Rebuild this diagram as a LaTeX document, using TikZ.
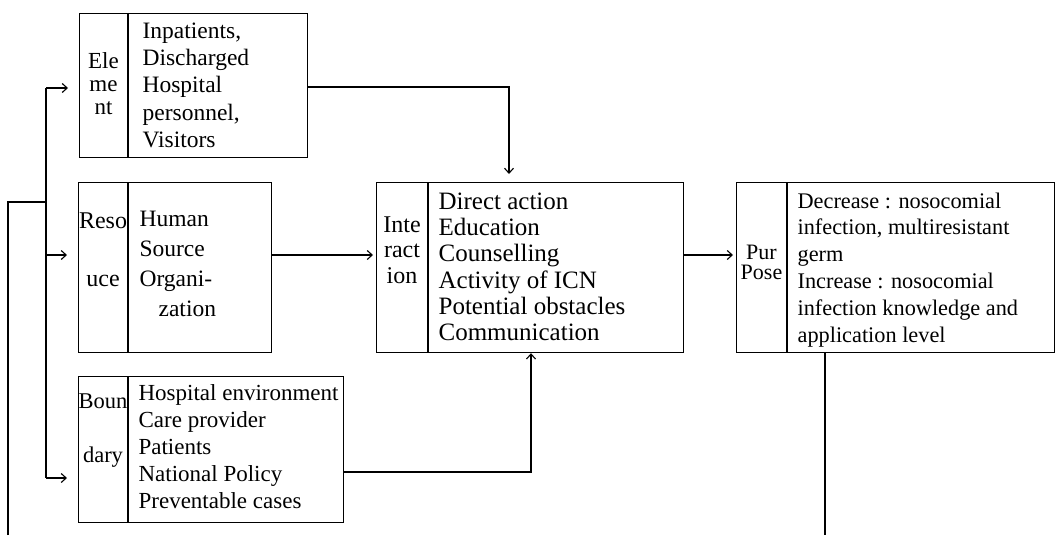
\documentclass[tikz,border=0pt]{standalone}
\usepackage{fontspec}
\setmainfont{Liberation Serif}
\usetikzlibrary{arrows.meta,calc}
\newcommand\myfs[2]{\fontsize{#1}{#2}\selectfont}
\begin{document}
\begin{tikzpicture}[x=1pt,y=-1pt,line width=1.2pt,
  box/.style={draw,rectangle,inner sep=0pt,anchor=north west},
  arr/.style={-{Straight Barb[length=5pt,width=9pt,line width=1.1pt]}},
  txt/.style={anchor=north west,inner sep=0pt,align=left},
  lbl/.style={anchor=north,inner sep=0pt,align=center}]
\useasboundingbox (0,0) rectangle (1056,535);
% boxes
\node[box,minimum width=228pt,minimum height=144pt] (elem) at (79,13) {};
\node[box,minimum width=193pt,minimum height=170pt] (res) at (78,182) {};
\node[box,minimum width=265pt,minimum height=146pt] (bound) at (78,376) {};
\node[box,minimum width=307pt,minimum height=170pt] (inter) at (376,182) {};
\node[box,minimum width=318pt,minimum height=170pt] (purp) at (736,182) {};
% dividers
\draw (elem.north west) ++(49,0) -- ++(0,144);
\draw (res.north west) ++(50,0) -- ++(0,170);
\draw (bound.north west) ++(50,0) -- ++(0,146);
\draw (inter.north west) ++(52,0) -- ++(0,170);
\draw (purp.north west) ++(51,0) -- ++(0,170);
% texts
\node[txt,font=\myfs{23.5}{27.3}] (elemT) at (142,22) {Inpatients,\\Discharged\\Hospital\\personnel,\\Visitors};
\node[lbl,font=\myfs{23}{23}] (elemL) at (103.5,52) {Ele\\me\\nt};
\node[txt,font=\myfs{23.5}{29.7}] (resT) at (139,211) {Human\\Source\\Organi-\\\hspace*{19pt}zation};
\node[lbl,font=\myfs{24}{24}] (resL1) at (103,212) {Reso};
\node[lbl,font=\myfs{24}{24}] (resL2) at (103,275) {uce};
\node[txt,font=\myfs{25}{26.3}] (interT) at (438,192) {Direct action\\Education\\Counselling\\Activity of ICN\\Potential obstacles\\Communication};
\node[lbl,font=\myfs{24}{25.5}] (interL) at (402,216) {Inte\\ract\\ion};
\node[txt,font=\myfs{22.3}{26.8}] (purpT) at (797,192) {Decrease : nosocomial\\infection, multiresistant\\germ\\Increase : nosocomial\\infection knowledge and\\application level};
\node[lbl,font=\myfs{22}{20}] (purpL) at (761.5,244) {Pur\\Pose};
\node[txt,font=\myfs{23}{27}] (boundT) at (138,384) {Hospital environment\\Care provider\\Patients\\National Policy\\Preventable cases};
\node[lbl,font=\myfs{22.5}{23}] (boundL1) at (103,393) {Boun};
\node[lbl,font=\myfs{22.5}{23}] (boundL2) at (103,446) {dary};
% bus on the left
\coordinate (busE) at (46,88);
\coordinate (busR) at (46,255);
\coordinate (busB) at (46,478);
\coordinate (loopT) at (8,202);
\coordinate (loopB) at (8,535);
\coordinate (purpB) at (825,535);
\draw (busE) -- (busB);
\draw (loopB) -- (loopT) -- (loopT -| busE);
\draw[arr,shorten >=11pt] (busE) -- (busE -| elem.west);
\draw[arr,shorten >=11pt] (busR) -- (busR -| res.west);
\draw[arr,shorten >=11pt] (busB) -- (busB -| bound.west);
% connectors to interaction
\coordinate (eOut) at ($(elem.north east)+(0,74)$);
\coordinate (iTop) at ($(inter.north west)+(133,0)$);
\draw[arr,shorten >=8pt] (eOut) -| (iTop);
\draw[arr,shorten >=3pt] (busR -| res.east) -- (busR -| inter.west);
\coordinate (bOut) at ($(bound.north east)+(0,96)$);
\coordinate (iBot) at ($(inter.south west)+(155,0)$);
\draw[arr] (bOut) -| (iBot);
\draw[arr,shorten >=3pt] (busR -| inter.east) -- (busR -| purp.west);
\draw (purp.south -| purpB) -- (purpB);
\end{tikzpicture}
\end{document}
